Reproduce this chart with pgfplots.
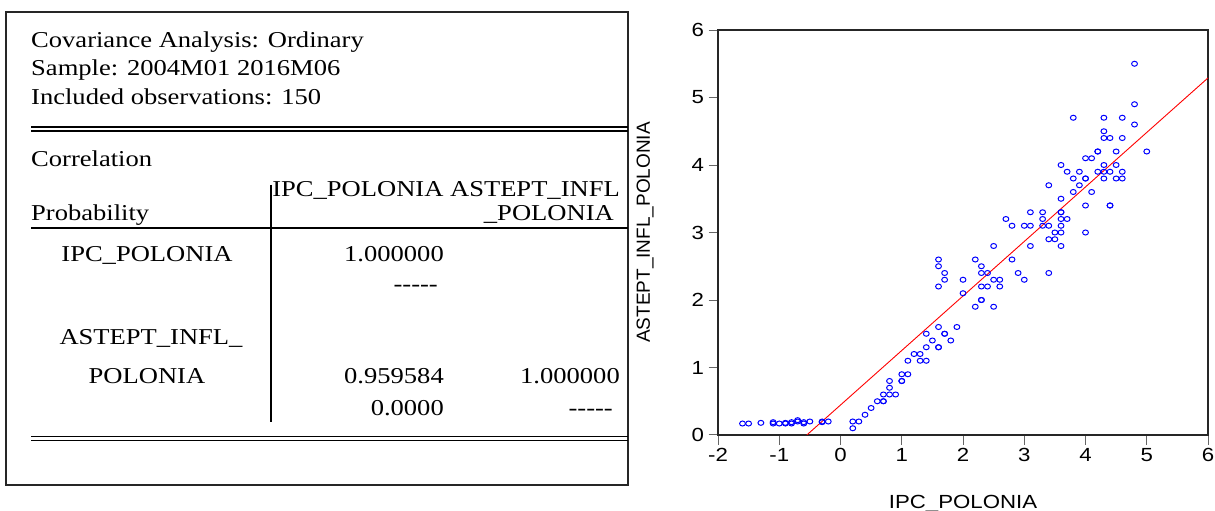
\documentclass[border=0pt]{standalone}
\usepackage{pgfplots}
\pgfplotsset{compat=1.18}
\usepackage{fontspec}
\setmainfont{Liberation Serif}
\newfontfamily\tabfont[FakeStretch=1.17]{Liberation Serif}
\newfontfamily\sansx[FakeStretch=1.17]{Liberation Sans}
\newfontfamily\sansy{Liberation Sans}
\definecolor{ptblue}{RGB}{0,0,255}
\definecolor{ptred}{RGB}{255,0,0}
\begin{document}
\begin{tikzpicture}[x=1pt,y=1pt]
\path[use as bounding box] (0,0) rectangle (1215,511);
\clip (0,0) rectangle (1215,511);
% ---------- table ----------
\draw[line width=1.5pt, black!85] (6,26) rectangle (628,499);
\draw[line width=1.2pt] (31,384) -- (628,384);
\draw[line width=1.2pt] (31,380) -- (628,380);
\draw[line width=1.4pt] (31,283) -- (628,283);
\draw[line width=1.4pt] (271,326) -- (271,89);
\draw[line width=1.2pt] (31,74.5) -- (628,74.5);
\draw[line width=1.2pt] (31,70.5) -- (628,70.5);
\begin{scope}[every node/.style={inner sep=0pt, font=\tabfont\fontsize{22.7}{27}\selectfont}]
\node[anchor=base west] at (31,463.3) {Covariance Analysis: Ordinary};
\node[anchor=base west] at (31,435) {Sample: 2004M01 2016M06};
\node[anchor=base west] at (31,406) {Included observations: 150};
\node[anchor=base west] at (31,344.3) {Correlation};
\node[anchor=base east] at (620,314.3) {IPC\_POLONIA ASTEPT\_INFL};
\node[anchor=base west] at (31,290) {Probability};
\node[anchor=base east] at (614,290) {\_POLONIA};
\node[anchor=base] at (147,249.3) {IPC\_POLONIA};
\node[anchor=base east] at (444,249.3) {1.000000};
\node[anchor=base east] at (438,219) {-----};
\node[anchor=base] at (151,166) {ASTEPT\_INFL\_};
\node[anchor=base] at (147,127) {POLONIA};
\node[anchor=base east] at (444,127) {0.959584};
\node[anchor=base east] at (620,127) {1.000000};
\node[anchor=base east] at (444,95.3) {0.0000};
\node[anchor=base east] at (613,95.3) {-----};
\end{scope}
% ---------- scatter ----------
\begin{axis}[
  at={(718pt,76pt)}, anchor=south west,
  scale only axis, width=490pt, height=405pt,
  xmin=-2, xmax=6, ymin=0, ymax=6,
  xtick={-2,-1,0,1,2,3,4,5,6}, ytick={0,1,2,3,4,5,6},
  xtick pos=bottom, ytick pos=left,
  tick align=outside, major tick length=9.5pt,
  axis line style={line width=1.6pt, black!85},
  every tick/.style={line width=1.0pt, black!60},
  /pgf/number format/assume math mode=true,
  xticklabel style={font=\sansx\fontsize{19}{22}\selectfont},
  yticklabel style={font=\sansx\fontsize{19}{22}\selectfont, xshift=-1pt},
  xlabel={IPC\_POLONIA},
  ylabel={ASTEPT\_INFL\_POLONIA},
  every axis x label/.style={at={(axis description cs:0.5,0)}, anchor=base, yshift=-73.5pt, font=\sansx\fontsize{19}{22}\selectfont},
  every axis y label/.style={at={(axis description cs:0,0.5)}, anchor=center, rotate=90, yshift=73pt, font=\sansy\fontsize{19}{22}\selectfont},
  clip=true,
]
\addplot[only marks, mark=o, mark size=2.5pt, ptblue, line width=1pt, every mark/.append style={xscale=1.17}] coordinates {
(-1.6,0.17) (-1.5,0.17) (-1.3,0.18) (-1.1,0.17) (-1.1,0.19) (-1.0,0.17) (-0.9,0.17) (-0.9,0.18)
(-0.8,0.17) (-0.8,0.19) (-0.7,0.2) (-0.7,0.22) (-0.6,0.17) (-0.6,0.19) (-0.5,0.2) (-0.3,0.19)
(-0.3,0.2) (-0.2,0.2)
(0.2,0.2) (0.3,0.2) (0.2,0.1) (0.4,0.3) (0.5,0.4) (0.6,0.5) (0.7,0.5) (0.7,0.5) (0.7,0.6)
(0.8,0.6) (0.9,0.6) (0.8,0.7) (0.8,0.8) (1.0,0.8) (1.0,0.8) (1.0,0.9) (1.1,0.9) (1.1,1.1)
(1.2,1.2) (1.3,1.2) (1.3,1.1) (1.4,1.1) (1.4,1.3) (1.4,1.5) (1.5,1.4) (1.6,1.3) (1.6,1.3)
(1.6,1.6) (1.7,1.5) (1.7,1.5) (1.8,1.4) (1.9,1.6)
(2.0,2.1) (2.0,2.3) (1.6,2.2) (1.7,2.3) (1.7,2.4) (1.6,2.5) (1.6,2.6) (2.2,1.9) (2.3,2.0)
(2.3,2.0) (2.3,2.2) (2.4,2.2) (2.3,2.4) (2.4,2.4) (2.5,2.3) (2.6,2.3) (2.6,2.2) (2.5,1.9)
(2.9,2.4) (3.0,2.3) (3.4,2.4) (2.2,2.6) (2.3,2.5) (2.8,2.6)
(2.5,2.8) (3.1,2.8) (3.6,2.8) (3.4,2.9) (3.5,2.9) (3.5,3.0) (3.6,3.0) (4.0,3.0) (2.8,3.1)
(3.0,3.1) (3.1,3.1) (3.3,3.1) (3.4,3.1) (3.6,3.1) (2.7,3.2) (3.3,3.2) (3.6,3.2) (3.7,3.2)
(3.1,3.3) (3.3,3.3) (3.6,3.3) (3.6,3.3) (4.0,3.4) (4.4,3.4) (4.4,3.4) (3.6,3.5) (3.8,3.6)
(4.1,3.6) (3.4,3.7) (3.9,3.7) (3.8,3.8) (4.0,3.8) (4.0,3.8) (4.3,3.8) (4.5,3.8) (4.6,3.8)
(3.7,3.9) (3.9,3.9) (4.2,3.9) (4.3,3.9) (4.4,3.9) (4.6,3.9) (3.6,4.0) (4.3,4.0) (4.5,4.0)
(4.0,4.1) (4.1,4.1) (4.2,4.2) (4.2,4.2) (4.5,4.2) (5.0,4.2) (4.3,4.4) (4.4,4.4) (4.6,4.4)
(4.3,4.5) (3.8,4.7) (4.3,4.7) (4.6,4.7) (4.8,4.6) (4.8,4.9) (4.8,5.5)
};
\addplot[ptred, line width=0.9pt] coordinates {(-0.55,0) (6,5.29)};
\end{axis}
\end{tikzpicture}
\end{document}
